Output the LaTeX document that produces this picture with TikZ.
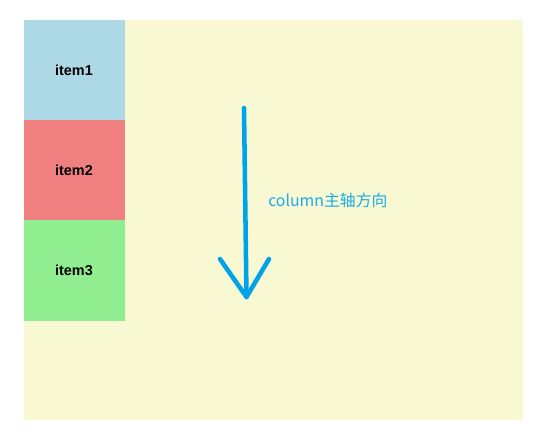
\documentclass[tikz,border=0pt]{standalone}
\usepackage{fontspec}
\setmainfont{Liberation Sans}
\newfontfamily\cjkfont{Noto Sans CJK SC}
\usepackage{tikz}

\definecolor{boxbg}{RGB}{248,248,210}
\definecolor{itemblue}{RGB}{173,216,230}
\definecolor{itemred}{RGB}{240,128,128}
\definecolor{itemgreen}{RGB}{144,238,144}
\definecolor{axiscol}{RGB}{0,163,232}

\tikzset{
	item/.style={fill=#1, draw=#1, line width=0.3pt, minimum width=75pt, minimum height=75pt,
		inner sep=0pt, outer sep=0pt, font=\fontsize{10.8}{12}\selectfont\bfseries, anchor=north west},
	axisline/.style={draw=axiscol, line width=3.4pt, line cap=round, line join=round}
}

\begin{document}
\begin{tikzpicture}[x=0.75pt, y=-0.75pt]

	\useasboundingbox[fill=white] (0,0) rectangle (547,447);
	\fill[boxbg] (24,20) rectangle (523,420);

	\node[item=itemblue] (item1) at (24,20) {item1};
	\node[item=itemred] (item2) at (item1.south west) {item2};
	\node[item=itemgreen] (item3) at (item2.south west) {item3};

	\coordinate (top) at (244,108);
	\coordinate (tip) at (246.5,297);
	\coordinate (wingl) at (220,259);
	\coordinate (wingr) at (269,259);
	\draw[axisline] (top) -- (tip);
	\draw[axisline] (wingl) -- (tip) -- (wingr);

	\node[anchor=west, inner sep=0pt, text=axiscol!90!white,
		font=\cjkfont\fontsize{11.9}{14}\selectfont] (label) at (268,200) {column主轴方向};

\end{tikzpicture}
\end{document}
